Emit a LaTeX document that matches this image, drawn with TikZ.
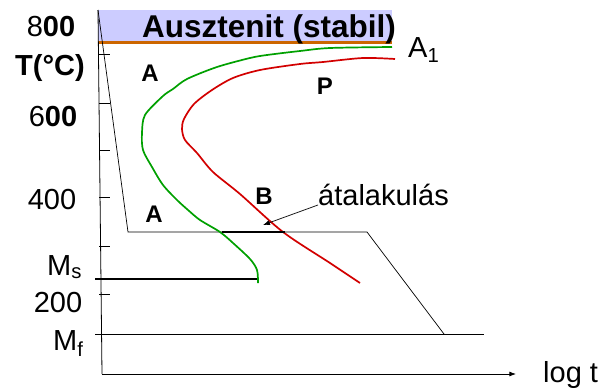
\documentclass[tikz,border=0pt]{standalone}
\usepackage{fontspec}
\setmainfont{Liberation Sans}
\usetikzlibrary{arrows.meta}

\definecolor{bandblue}{RGB}{204,204,255}
\definecolor{aorange}{RGB}{204,102,0}
\definecolor{cgreen}{RGB}{0,160,0}
\definecolor{cred}{RGB}{210,0,0}

\begin{document}
\begin{tikzpicture}[>=Latex,x=1pt,y=-1pt,
  big/.style={font=\fontsize{29}{34}\selectfont,inner sep=0pt},
  phase/.style={font=\fontsize{24}{28}\selectfont\bfseries,inner sep=0pt,anchor=base},
  curve/.style={line width=1.7pt,smooth,tension=0.5}]
  \useasboundingbox (0,0) rectangle (608,391);
  % austenite band and A1 line
  \fill[bandblue] (98,10) rectangle (392,42);
  \draw[aorange,line width=3pt] (98,42)--(392,42);
  \node[big,font=\fontsize{31.5}{36}\selectfont\bfseries,anchor=base west] (aus) at (142,37) {Ausztenit (stabil)};
  % axes
  \coordinate (top) at (98,10);
  \coordinate (orig) at (102,374);
  \coordinate (xend) at (516,374);
  \draw[line width=0.8pt] (top)--(orig);
  \draw[->,line width=0.8pt] (orig)--(xend);
  \foreach \y in {54,103,150,197,246,294}
    \draw[line width=0.8pt] (99,\y)--(110,\y);
  \node[big,anchor=base] (t800) at (51,36) {8\textbf{00}};
  \node[big,anchor=base,font=\fontsize{29}{34}\selectfont\bfseries] (tunit) at (50,75) {T(°C)};
  \node[big,anchor=base] (t600) at (53,126) {6\textbf{00}};
  \node[big,anchor=base] (t400) at (52,209) {400};
  \node[big,anchor=base west] (ms) at (47,275) {M\textsubscript{s}};
  \node[big,anchor=base] (t200) at (58,312) {200};
  \node[big,anchor=base west] (mf) at (53,350) {M\textsubscript{f}};
  \node[big,anchor=base west] (logt) at (543,382) {log t};
  \node[big,anchor=base west] (a1) at (408,57) {A\textsubscript{1}};
  % cooling path
  \coordinate (q1) at (128,232);
  \coordinate (q2) at (367,232);
  \coordinate (q3) at (444,334);
  \draw[line width=0.7pt] (top)--(q1)--(q2)--(q3);
  \draw[line width=0.7pt] (95,334)--(484,334);
  % C-curves: start and end of transformation
  \draw[cgreen,curve] plot coordinates {(392,47) (330,48) (300,51) (267,55) (250,58)
    (217,67) (187,79) (173,89) (163,96) (145,115) (142,133) (143,150) (152,167)
    (163,185) (177,200) (188,210) (200,220) (220,232) (233,243) (250,259) (257,270) (258,283)};
  \draw[cred,curve] plot coordinates {(395,59) (363,58) (323,62) (300,64) (260,70)
    (233,78) (212,90) (194,104) (184,119) (182,129) (185,140) (197,153) (213,172)
    (240,194) (283,232) (330,263) (360,283)};
  % isothermal hold and Ms
  \draw[line width=2.5pt] (222,232)--(285,232);
  \draw[line width=2.5pt] (95,279)--(257,279);
  \node[phase] (la) at (150,81) {A};
  \node[phase] (lp) at (325,94) {P};
  \node[phase] (lb) at (264,204) {B};
  \node[phase] (la2) at (154,222) {A};
  \node[big,anchor=base west] (atal) at (318,205) {átalakulás};
  \coordinate (hold) at (263,225);
  \draw[-{Latex[length=7pt,width=5pt]},line width=0.7pt] (atal.base west)--(hold);
\end{tikzpicture}
\end{document}
